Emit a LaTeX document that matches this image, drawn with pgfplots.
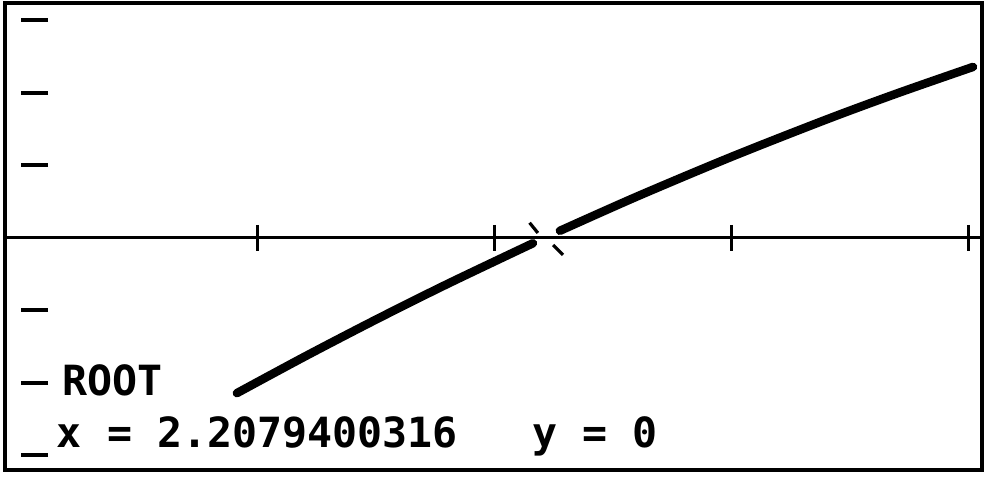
\documentclass[border=0pt]{standalone}
\usepackage{fontspec}
\setmainfont{DejaVu Sans}
\setmonofont{DejaVu Sans Mono}
\usepackage{pgfplots}
\pgfplotsset{compat=1.18}
\begin{document}
\begin{tikzpicture}
\begin{axis}[
  name=ax,
  scale only axis,
  width=488.5pt, height=233.5pt,
  xmin=-0.0675, xmax=4.055,
  ymin=-3.2, ymax=3.241,
  axis line style={line width=2pt},
  xtick=\empty, ytick=\empty,
  clip=true,
]
% x axis
\addplot[black, line width=1.5pt] coordinates {(-0.0675,0) (4.055,0)};
% x ticks
\addplot[only marks, mark=|, mark size=6.5pt, mark options={line width=1.5pt}] coordinates {(1,0) (2,0) (3,0) (4,0)};
% y ticks
\addplot[only marks, mark=-, mark size=6.75pt, mark options={line width=2pt}] coordinates {(0.057,3) (0.057,2) (0.057,1) (0.057,-1) (0.057,-2) (0.057,-3)};
% curve, left part
\addplot[black, line width=4.25pt, line cap=round, line join=round, smooth] coordinates {
(0.911,-2.14) (1.2,-1.631) (1.5,-1.122) (1.8,-0.633) (2.160,-0.073)};
% curve, right part
\addplot[black, line width=4.25pt, line cap=round, line join=round, smooth] coordinates {
(2.274,0.099) (2.6,0.573) (3.0,1.122) (3.4,1.636) (3.7,1.998) (4.017,2.359)};
% root cursor strokes
\addplot[black, line width=1.6pt] coordinates {(2.146,0.21) (2.181,0.069)};
\addplot[black, line width=1.6pt] coordinates {(2.245,-0.097) (2.287,-0.234)};
\node[anchor=base west, inner sep=0pt, font=\ttfamily\bfseries\fontsize{20.8pt}{24pt}\selectfont] at (axis cs:0.173,-2.166) {ROOT};
\node[anchor=base west, inner sep=0pt, font=\ttfamily\bfseries\fontsize{20.8pt}{24pt}\selectfont] at (axis cs:0.15,-2.883) {x = 2.2079400316\ \ \ y = 0};
\end{axis}
\path[use as bounding box] ([shift={(-2.5pt,-4.5pt)}]ax.south west) rectangle ([shift={(4pt,1.5pt)}]ax.north east);
\end{tikzpicture}
\end{document}
